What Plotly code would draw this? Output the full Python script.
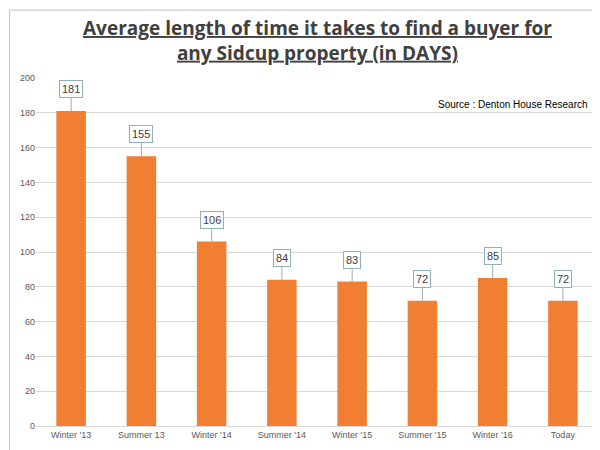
import plotly.graph_objects as go

periods = ["Winter '13", "Summer 13", "Winter '14", "Summer '14",
           "Winter '15", "Summer '15", "Winter '16", "Today"]
days = [181, 155, 106, 84, 83, 72, 85, 72]

fig = go.Figure(go.Bar(
    x=periods, y=days, width=0.42,
    marker=dict(color="#F07E33", line=dict(width=0)),
))

for p, d in zip(periods, days):
    fig.add_annotation(
        x=p, y=d, text=str(d), showarrow=True, arrowhead=0, arrowwidth=1,
        arrowcolor="#9bb0b5", ax=0, ay=-22, bgcolor="white",
        bordercolor="#8fb3b8", borderwidth=1, borderpad=2,
        font=dict(size=11, color="#404040"),
    )

fig.add_annotation(
    x=0.985, y=0.945, xref="paper", yref="paper", xanchor="right",
    text="Source : Denton House Research", showarrow=False,
    font=dict(size=10, color="#000000"),
)
# title sits above the plot area (top ~5px from the page edge)
fig.add_annotation(
    x=0.5, y=1.187, xref="paper", yref="paper", yanchor="top",
    text="<b><u>Average length of time it takes to find a buyer for</u></b><br>"
         "<b><u>any Sidcup property (in DAYS)</u></b>",
    showarrow=False, font=dict(size=19, color="#404040", family="Open Sans"),
)

fig.update_layout(
    width=600, height=450,
    margin=dict(l=28, r=10, t=70, b=32),
    paper_bgcolor="white", plot_bgcolor="white",
    font=dict(family="Liberation Sans", size=9, color="#595959"),
    showlegend=False, bargap=0.3,
    shapes=[dict(type="rect", xref="paper", yref="paper", x0=-0.047, x1=1.015,
                 y0=-0.09, y1=1.195, line=dict(color="#bfbfbf", width=1))],
)
fig.update_yaxes(range=[0, 200], dtick=20, gridcolor="#d9d9d9",
                 zeroline=False, ticks="", tickfont=dict(size=9))
fig.update_xaxes(showline=True, linecolor="#d9d9d9", tickfont=dict(size=9))

fig.write_html("out.html")
